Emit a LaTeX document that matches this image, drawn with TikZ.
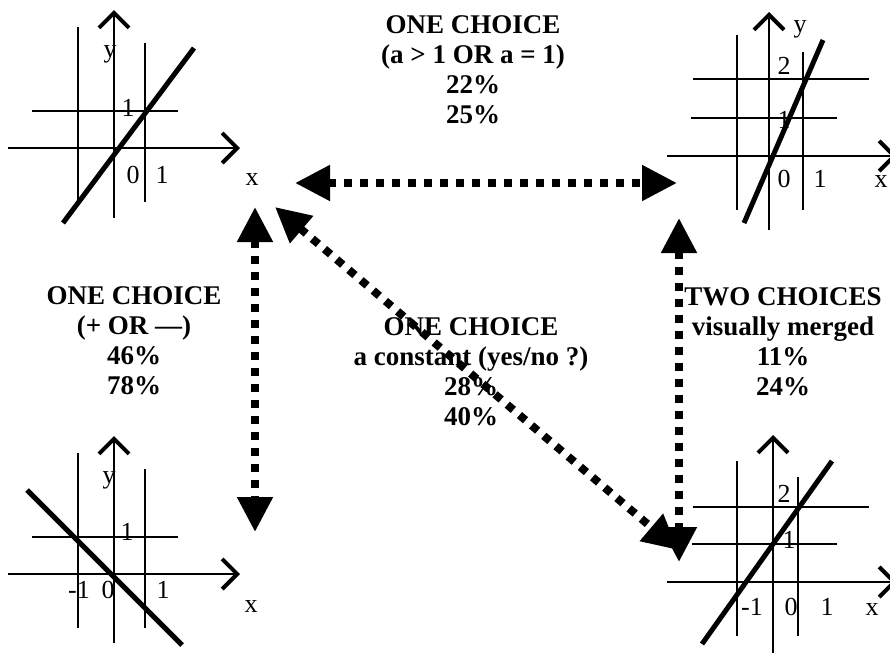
\documentclass[tikz,border=0pt]{standalone}
\usepackage{fontspec}
\setmainfont{Liberation Serif}
\usetikzlibrary{arrows.meta}

\begin{document}
\begin{tikzpicture}[x=1pt,y=-1pt,
  grid/.style={line width=1.6pt},
  axis/.style={line width=1.6pt,-{Straight Barb[length=15pt,width=30pt,line width=4pt]}},
  fn/.style={line width=5pt},
  lbl/.style={font=\fontsize{26}{26}\selectfont,inner sep=0pt,anchor=base},
  choice/.style={font=\fontsize{27}{30}\selectfont\bfseries,align=center,inner sep=0pt,anchor=north},
  link/.style={line width=8pt,dash pattern=on 8pt off 8pt,
    {Triangle[length=35pt,width=34pt]}-{Triangle[length=35pt,width=34pt]}}]
% 1 unit = 1 pixel of the 890x654 sheet, y downwards
\clip (0,0) rectangle (890,654);

% top left: y = x
\draw[grid] (78,27) -- (78,202);
\draw[grid] (145,43) -- (145,202);
\draw[grid] (32,111) -- (178,111);
\draw[axis] (114,218) -- (114,10);
\draw[axis] (8,148) -- (240,148);
\draw[fn] (63,223) -- (194,48);
\node[lbl] (ay) at (110,57) {y};
\node[lbl] (ay1) at (128,116) {1};
\node[lbl] (ax0) at (133,183) {0};
\node[lbl] (ax1) at (162,183) {1};
\node[lbl] (ax) at (252,185) {x};

% top right: y = ax, a > 1
\draw[grid] (737,35) -- (737,210);
\draw[grid] (803,52) -- (803,210);
\draw[grid] (693,79) -- (869,79);
\draw[grid] (691,118) -- (837,118);
\draw[axis] (769,230) -- (769,12);
\draw[axis] (667,156) -- (897,156);
\draw[fn] (744,223) -- (823,40);
\node[lbl] (by) at (800,32) {y};
\node[lbl] (by2) at (784,74) {2};
\node[lbl] (by1) at (784,128) {1};
\node[lbl] (bx0) at (784,187) {0};
\node[lbl] (bx1) at (820,187) {1};
\node[lbl] (bx) at (881,187) {x};

% bottom left: y = -x
\draw[grid] (78,453) -- (78,628);
\draw[grid] (145,469) -- (145,628);
\draw[grid] (32,537) -- (178,537);
\draw[axis] (114,643) -- (114,436);
\draw[axis] (8,574) -- (240,574);
\draw[fn] (27,490) -- (182,645);
\node[lbl] (cy) at (109,483) {y};
\node[lbl] (cy1) at (127,540) {1};
\node[lbl] (cxm) at (79,598) {-1};
\node[lbl] (cx0) at (108,598) {0};
\node[lbl] (cx1) at (163,598) {1};
\node[lbl] (cx) at (251,612) {x};

% bottom right: y = x + 1
\draw[grid] (737,461) -- (737,636);
\draw[grid] (798,477) -- (798,636);
\draw[grid] (693,507) -- (869,507);
\draw[grid] (692,544) -- (837,544);
\draw[axis] (773,653) -- (773,435);
\draw[axis] (667,582) -- (897,582);
\draw[fn] (702,644) -- (832,461);
\node[lbl] (dy2) at (784,502) {2};
\node[lbl] (dy1) at (789,548) {1};
\node[lbl] (dxm) at (752,615) {-1};
\node[lbl] (dx0) at (791,615) {0};
\node[lbl] (dx1) at (827,615) {1};
\node[lbl] (dx) at (872,615) {x};

% percentages
\node[choice] (topc) at (473,15) {ONE CHOICE\\(a > 1 OR a = 1)\\22\%\\25\%};
\node[choice] (leftc) at (134,286) {ONE CHOICE\\(+ OR —)\\46\%\\78\%};
\node[choice] (rightc) at (783,287) {TWO CHOICES\\visually merged\\11\%\\24\%};
\node[choice] (midc) at (471,317) {ONE CHOICE\\a constant (yes/no ?)\\28\%\\40\%};

% links between graphs
\coordinate (ta) at (295,183);
\coordinate (tb) at (677,183);
\coordinate (la) at (255,207);
\coordinate (lb) at (255,532);
\coordinate (ra) at (679,218);
\coordinate (rb) at (679,562);
\coordinate (da) at (275,207);
\coordinate (db) at (678,550);
\draw[link] (ta) -- (tb);
\draw[link] (la) -- (lb);
\draw[link] (da) -- (db);
\draw[link] (ra) -- (rb);
\end{tikzpicture}
\end{document}
